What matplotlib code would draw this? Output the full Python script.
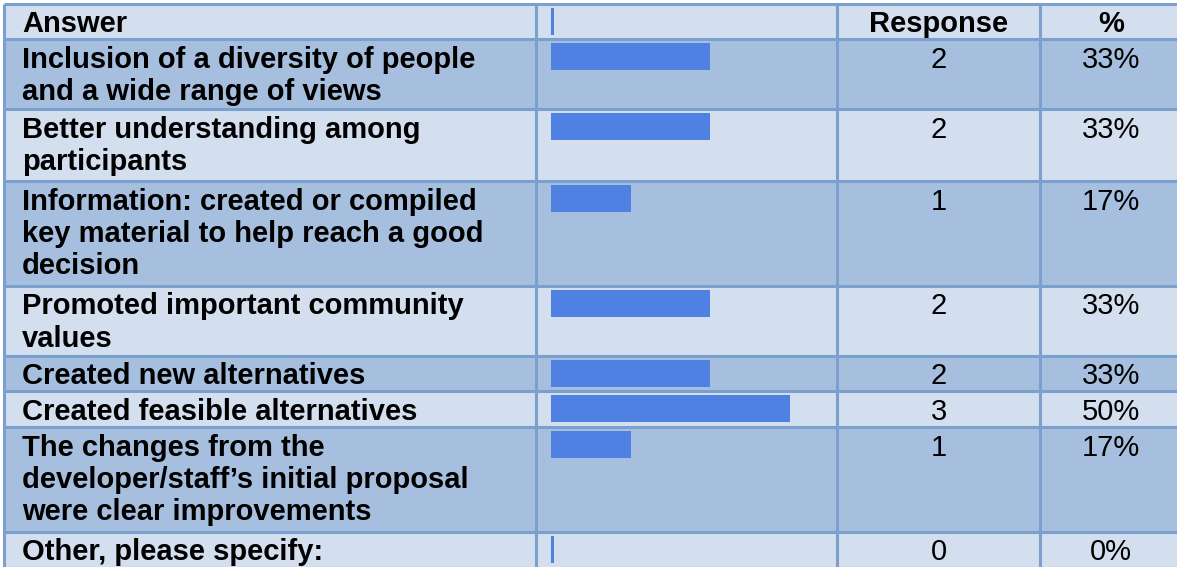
import matplotlib.pyplot as plt
from matplotlib.patches import Rectangle

plt.rcParams['font.family'] = ['Liberation Sans', 'DejaVu Sans']

# table content
header = ['Answer', 'Response', '%']
answers = [
    'Inclusion of a diversity of people\nand a wide range of views',
    'Better understanding among\nparticipants',
    'Information: created or compiled\nkey material to help reach a good\ndecision',
    'Promoted important community\nvalues',
    'Created new alternatives',
    'Created feasible alternatives',
    'The changes from the\ndeveloper/staff\u2019s initial proposal\nwere clear improvements',
    'Other, please specify:',
]
responses = [2, 2, 1, 2, 2, 3, 1, 0]
percents = ['33%', '33%', '17%', '33%', '33%', '50%', '17%', '0%']

# layout in pixels
W, H = 1177, 567
col_edges = [4, 536, 837, 1040, 1184]
row_edges = [4, 39, 109, 181, 286, 356, 391, 427, 532, 568]
light = '#D3DFEE'
dark = '#A7BFDE'
grid = '#7BA0CD'
barc = '#4F81E3'
fs = 21
line_h = 32.5
base_off = 28.5
unit = 79.5      # px per response
bar_x0 = 551
pct_x = 1111

fig = plt.figure(figsize=(W / 100, H / 100), dpi=100)
ax = fig.add_axes([0, 0, 1, 1])
ax.set_xlim(0, W)
ax.set_ylim(H, 0)
ax.axis('off')

# row backgrounds
for i in range(len(row_edges) - 1):
    ax.add_patch(Rectangle((col_edges[0], row_edges[i]),
                           col_edges[-1] - col_edges[0],
                           row_edges[i + 1] - row_edges[i],
                           fc=light if i % 2 == 0 else dark, ec='none', zorder=0))

ax.hlines(row_edges, col_edges[0], col_edges[-1], colors=grid, lw=2.2, zorder=2)
ax.vlines(col_edges, row_edges[0], row_edges[-1], colors=grid, lw=2.2, zorder=2)

# header
top = row_edges[0]
ax.text(22, top + base_off, header[0], fontsize=fs, fontweight='bold', va='baseline')
ax.text((col_edges[2] + col_edges[3]) / 2, top + base_off, header[1], fontsize=fs,
        fontweight='bold', va='baseline', ha='center')
ax.text(pct_x, top + base_off, header[2], fontsize=fs, fontweight='bold',
        va='baseline', ha='center')

# body text
for i, (a, r, p) in enumerate(zip(answers, responses, percents)):
    top = row_edges[i + 1]
    for k, line in enumerate(a.split('\n')):
        ax.text(22, top + base_off + k * line_h, line, fontsize=fs,
                fontweight='bold', va='baseline')
    ax.text((col_edges[2] + col_edges[3]) / 2, top + base_off, str(r), fontsize=fs,
            va='baseline', ha='center')
    ax.text(pct_x, top + base_off, p, fontsize=fs, va='baseline', ha='center')

# bar column in response units
bax = fig.add_axes([col_edges[1] / W, 0, (col_edges[2] - col_edges[1]) / W, 1])
bax.set_xlim((col_edges[1] - bar_x0) / unit, (col_edges[2] - bar_x0) / unit)
bax.set_ylim(H, 0)
bax.axis('off')
bax.patch.set_alpha(0)

min_w = 3 / unit
bar_vals = [0] + responses
for i, v in enumerate(bar_vals):
    top = row_edges[i]
    if i == 0 or v == 0:
        bax.barh(top + 4, min_w, height=27, left=0, align='edge', color=barc)
    else:
        bax.barh(top + 4, v, height=27, left=0, align='edge', color=barc)

fig.savefig('out.png', dpi=100)
